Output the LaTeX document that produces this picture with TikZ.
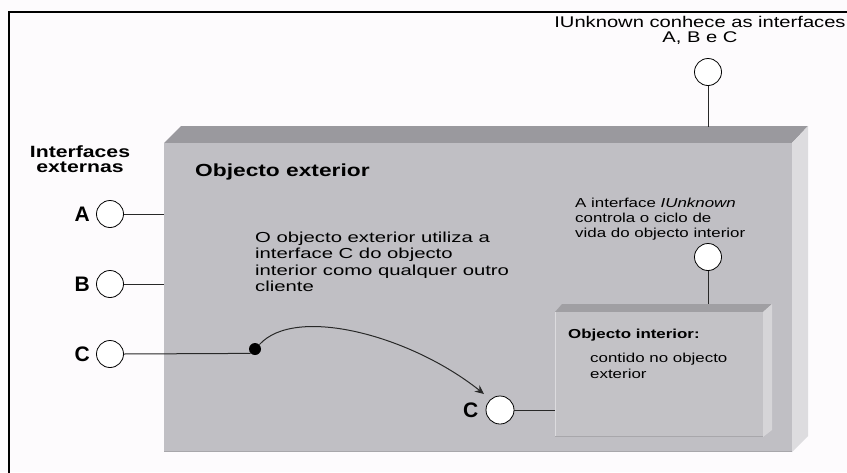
\documentclass[tikz,border=0pt]{standalone}
\usepackage{fontspec}
\setmainfont{Liberation Sans}
\usepackage{graphicx}
\usetikzlibrary{arrows.meta}
\definecolor{bg}{RGB}{253,251,253}
\definecolor{frontc}{RGB}{192,191,196}
\definecolor{topc}{RGB}{154,153,158}
\definecolor{sidec}{RGB}{221,220,223}
\definecolor{infrontc}{RGB}{195,194,198}
\definecolor{intopc}{RGB}{160,159,163}
\definecolor{insidec}{RGB}{214,213,216}
\definecolor{edgedark}{RGB}{168,167,171}
\definecolor{edgelight}{RGB}{220,219,222}
\definecolor{lnc}{RGB}{40,40,40}
\newcommand{\sx}[1]{\scalebox{1.3}[1]{#1}}
\newcommand{\sxw}[1]{\scalebox{1.4}[1]{#1}}
\begin{document}
\begin{tikzpicture}[x=1pt,y=-1pt,
  port/.style={circle,draw=black,line width=0.8pt,fill=white,minimum size=27pt,inner sep=0pt},
  conn/.style={draw=lnc,line width=1pt},
  lbl/.style={font=\fontsize{21}{21}\selectfont\bfseries,inner sep=0pt},
  txt/.style={inner sep=0pt,font=\fontsize{13}{15}\selectfont},
  boxface/.style={inner sep=0pt,anchor=north west}]
\fill[bg] (0,0) rectangle (847,472);
\useasboundingbox (0,0) rectangle (847,472);
\begin{scope}
\clip (0,0) rectangle (847,472);
\draw[line width=2.5pt] (9,12) rectangle (870,495);
\end{scope}
% outer object
\fill[topc] (164,143) -- (181,126) -- (808,126) -- (792,143) -- cycle;
\fill[sidec] (792,143) -- (808,126) -- (808,436) -- (792,452) -- cycle;
\node[boxface,fill=frontc,minimum width=628pt,minimum height=309pt] (outer) at (164,143) {};
\draw[edgedark,line width=1.5pt] ([yshift=0.75pt]outer.south west) -- ([yshift=0.75pt]outer.south east);
% inner object
\fill[intopc] (555,312) -- (562,304) -- (772,304) -- (763,312) -- cycle;
\fill[insidec] (763,312) -- (772,304) -- (772,430) -- (763,437) -- cycle;
\node[boxface,fill=infrontc,minimum width=208pt,minimum height=125pt] (inner) at (555,312) {};
\draw[edgelight,line width=1.2pt] ([xshift=0.6pt]inner.north west) -- ([xshift=0.6pt]inner.south west);
\draw[edgedark,line width=1.2pt] ([yshift=0.6pt]inner.south west) -- ([yshift=0.6pt]inner.south east);
% texts
\node[inner sep=0pt,anchor=base west,font=\fontsize{17.5}{18}\selectfont\bfseries] (exttitle) at (195,176) {\sx{Objecto exterior}};
\node[inner sep=0pt,anchor=base,font=\fontsize{16.3}{15}\selectfont\bfseries] (ifx) at (80,157) {\sx{\begin{tabular}[t]{@{}c@{}}Interfaces\\externas\end{tabular}}};
\node[inner sep=0pt,anchor=base,font=\fontsize{15.5}{15}\selectfont] (toptxt) at (700,27) {\sx{\begin{tabular}[t]{@{}c@{}}IUnknown conhece as interfaces\\A, B e C\end{tabular}}};
\node[txt,anchor=base west] (iutxt) at (575,207) {\sx{\begin{tabular}[t]{@{}l@{}}A interface \textit{IUnknown}\\controla o ciclo de\\vida do objecto interior\end{tabular}}};
\node[txt,anchor=base west,font=\fontsize{14.5}{16.5}\selectfont] (usetxt) at (255,242) {\sxw{\begin{tabular}[t]{@{}l@{}}O objecto exterior utiliza a\\ interface C do objecto\\interior como qualquer outro\\ cliente\end{tabular}}};
\node[inner sep=0pt,anchor=base west,font=\fontsize{13}{15}\selectfont\bfseries] (intitle) at (568,338) {\sx{Objecto interior:}};
\node[txt,anchor=base west,font=\fontsize{13}{16}\selectfont] (intxt) at (590,362) {\sx{\begin{tabular}[t]{@{}l@{}}contido no objecto\\exterior\end{tabular}}};
% ports
\node[port] (cA) at (110,214) {};
\node[port] (cB) at (110,284) {};
\node[port] (cC) at (110,354) {};
\node[port] (cTop) at (708,72) {};
\node[port] (cIU) at (708,257) {};
\node[port,minimum size=28pt] (cIn) at (500,410) {};
\node[lbl,anchor=east] (lA) at ([xshift=-6pt]cA.west) {A};
\node[lbl,anchor=east] (lB) at ([xshift=-6pt]cB.west) {B};
\node[lbl,anchor=east] (lC) at ([xshift=-6pt]cC.west) {C};
\node[lbl,anchor=east] (lIn) at ([xshift=-7pt]cIn.west) {C};
\node[circle,fill=black,minimum size=12pt,inner sep=0pt] (dot) at (255,349) {};
\coordinate (topend) at (708,126.5);
\coordinate (iuend) at (708,304);
\coordinate (tip) at (484,394);
% connectors
\draw[conn] (cA.east) -- (cA.east -| outer.west);
\draw[conn] (cB.east) -- (cB.east -| outer.west);
\draw[conn] (cC.east) -- (dot.south west);
\draw[conn] (cTop.south) -- (topend);
\draw[conn] (cIU.south) -- (iuend);
\draw[conn] (cIn.east) -- (cIn.east -| inner.west);
\draw[conn,-{Stealth[length=9pt,width=8pt]}] (dot.north east) .. controls (295,305) and (410,335) .. (tip);
\end{tikzpicture}
\end{document}
